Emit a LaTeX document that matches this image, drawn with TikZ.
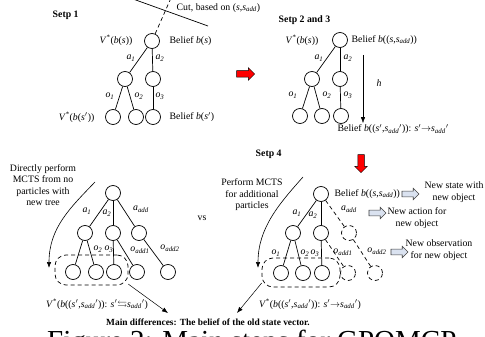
\documentclass[tikz,border=0pt]{standalone}
\usepackage{amssymb}
\usepackage{fontspec}
\setmainfont{Liberation Serif}
\usetikzlibrary{shapes.arrows,arrows.meta}
\newcommand{\mi}[1]{\textit{#1}}
\newcommand{\sbs}[1]{\textsubscript{#1}}
\newcommand{\sadd}{\mi{s}\sbs{\mi{add}}}
\newcommand{\vstar}{\mi{V}\textsuperscript{*}}
\newcommand{\pri}{{$'$}}
\begin{document}
\begin{tikzpicture}[x=1pt,y=-1pt,
 every node/.style={font=\fontsize{9.8}{11.5}\selectfont, inner sep=0.5pt},
 st/.style={circle,draw,line width=0.7pt,minimum size=15pt,inner sep=0},
 dst/.style={st,dash pattern=on 4pt off 3pt},
 edge/.style={line width=0.7pt},
 dedge/.style={edge,dash pattern=on 4pt off 3pt},
 lab/.style={font=\fontsize{9.8}{11}\selectfont\itshape},
 ttl/.style={font=\fontsize{9.8}{11}\selectfont\bfseries, anchor=west},
 redarrow/.style={single arrow, draw=black, fill=red, line width=0.5pt, minimum height=18pt, inner sep=0pt, inner ysep=3pt, text height=0pt, text depth=0pt, single arrow head extend=3pt},
 hollow/.style={single arrow, draw=black!75, fill={rgb,255:red,218;green,226;blue,240}, line width=0.6pt, minimum height=17pt, inner sep=0pt, inner ysep=2.6pt, text height=0pt, text depth=0pt, single arrow head extend=2.8pt},
 region/.style={draw, line width=0.7pt, dash pattern=on 4pt off 3pt, rounded corners=11pt},
 thinarrow/.style={line width=0.5pt,-{Latex[length=6pt,width=4.5pt]}},
 ]
\useasboundingbox (0,0) rectangle (485,337);

% ---------- Step 1 ----------
\node[ttl] (t1) at (52,15) {Setp 1};
\node[st] (r1) at (152,41) {};
\node[st] (p1a) at (125,79) {};
\node[st] (p1b) at (153,79) {};
\node[st] (q1a) at (113,117) {};
\node[st] (q1b) at (136,117) {};
\node[st] (q1c) at (153,117) {};
\draw[edge] (r1) -- (p1a);
\draw[edge] (r1) -- (p1b);
\draw[edge] (p1a) -- (q1a);
\draw[edge] (p1a) -- (q1b);
\draw[edge] (p1b) -- (q1c);
\node[lab] (l1a) at (131,58) {a\sbs{1}};
\node[lab] (l1b) at (160,58) {a\sbs{2}};
\node[lab] (l1c) at (110,96) {o\sbs{1}};
\node[lab] (l1d) at (139,96) {o\sbs{2}};
\node[lab] (l1e) at (160,96) {o\sbs{3}};
\node[anchor=east] (v1) at (133,40) {\vstar(\mi{b}(\mi{s}))};
\node[anchor=west] (b1) at (169,41) {Belief \mi{b}(\mi{s})};
\node[anchor=east] (v1b) at (95,117) {\vstar(\mi{b}(\mi{s}\pri))};
\node[anchor=west] (b1b) at (169,117) {Belief \mi{b}(\mi{s}\pri)};
\coordinate (c1) at (133,-1);
\coordinate (c2) at (208,26);
\coordinate (c3) at (171,-2);
\draw[edge] (c1) -- (c2);
\draw[dedge] (r1) -- (c3);
\node[anchor=west] (cut) at (176,8) {Cut, based on (\mi{s},\sadd)};

\node[redarrow] (ra) at (244,74) {};

% ---------- Step 2 and 3 ----------
\node[ttl] (t2) at (278,20) {Setp 2 and 3};
\node[st] (r2) at (340,40) {};
\node[st] (p2a) at (312,79) {};
\node[st] (p2b) at (340,79) {};
\node[st] (q2a) at (300,116) {};
\node[st] (q2b) at (322,116) {};
\node[st] (q2c) at (341,116) {};
\draw[edge] (r2) -- (p2a);
\draw[edge] (r2) -- (p2b);
\draw[edge] (p2a) -- (q2a);
\draw[edge] (p2a) -- (q2b);
\draw[edge] (p2b) -- (q2c);
\node[lab] (l2a) at (319,58) {a\sbs{1}};
\node[lab] (l2b) at (348,58) {a\sbs{2}};
\node[lab] (l2c) at (293,95) {o\sbs{1}};
\node[lab] (l2d) at (327,95) {o\sbs{2}};
\node[lab] (l2e) at (348,95) {o\sbs{3}};
\node[anchor=east] (v2) at (319,40) {\vstar(\mi{b}(\mi{s}))};
\node[anchor=west] (b2) at (351,40) {Belief \mi{b}((\mi{s},\sadd))};
\coordinate (h1) at (363,55);
\coordinate (h2) at (363,123);
\draw[thinarrow, line width=0.4pt] (h1) -- (h2);
\node[lab] (hl) at (379,83) {h};
\node[anchor=west] (b2b) at (337,129) {Belief \mi{b}((\mi{s}\pri,\sadd\pri)): \mi{s}\pri{$\rightarrow$}\sadd\pri};

% ---------- Step 4 ----------
\node[ttl] (t4) at (255,154) {Setp 4};
\node[redarrow, rotate=-90] (rd) at (361,162) {};

% left tree
\node[st] (r3) at (113,193) {};
\node[st] (p3a) at (85,233) {};
\node[st] (p3b) at (113,233) {};
\node[st] (p3c) at (139,233) {};
\node[st] (q3a) at (73,272) {};
\node[st] (q3b) at (96,272) {};
\node[st] (q3c) at (114,272) {};
\node[st] (q3d) at (137,272) {};
\node[st] (q3e) at (168,272) {};
\draw[edge] (r3) -- (p3a);
\draw[edge] (r3) -- (p3b);
\draw[edge] (r3) -- (p3c);
\draw[edge] (p3a) -- (q3a);
\draw[edge] (p3a) -- (q3b);
\draw[edge] (p3b) -- (q3c);
\draw[edge] (p3b) -- (q3d);
\draw[edge] (p3c) -- (q3e);
\node[lab] (l3a) at (87,211) {a\sbs{1}};
\node[lab] (l3b) at (107,213) {a\sbs{2}};
\node[lab] (l3c) at (141,209) {a\sbs{add}};
\node[lab] (l3d) at (98,249) {o\sbs{2}};
\node[lab] (l3e) at (109,249) {o\sbs{3}};
\node[lab] (l3f) at (140,250) {o\sbs{add1}};
\node[lab] (l3g) at (170,248) {o\sbs{add2}};
\node[region, minimum width=73pt, minimum height=30pt] (regL) at (91.5,270) {};
\node[align=center] (dp) at (43,185) {Directly perform\\MCTS from no\\particles with\\new tree};
\coordinate (la1) at (95,182);
\coordinate (la2) at (49,268);
\draw[thinarrow, line width=0.6pt] (la1) .. controls (70,208) and (49,228) .. (la2);
\node (vs) at (202,218) {vs};

% right tree
\node[st] (r4) at (321,194) {};
\node[st] (p4a) at (293,233) {};
\node[st] (p4b) at (321,233) {};
\node[dst] (p4c) at (349,233) {};
\node[st] (q4a) at (281,273) {};
\node[st] (q4b) at (303,273) {};
\node[st] (q4c) at (322,273) {};
\node[dst] (q4d) at (348,273) {};
\node[dst] (q4e) at (375,273) {};
\draw[edge] (r4) -- (p4a);
\draw[edge] (r4) -- (p4b);
\draw[dedge] (r4) -- (p4c);
\draw[edge] (p4a) -- (q4a);
\draw[edge] (p4a) -- (q4b);
\draw[edge] (p4b) -- (q4c);
\draw[dedge] (p4b) -- (q4d);
\draw[dedge] (p4c) -- (q4e);
\node[lab] (l4a) at (297,213) {a\sbs{1}};
\node[lab] (l4b) at (313,215) {a\sbs{2}};
\node[lab] (l4c) at (349,209) {a\sbs{add}};
\node[lab] (l4d) at (276,253) {o\sbs{1}};
\node[lab] (l4e) at (305,253) {o\sbs{2}};
\node[lab] (l4f) at (315,253) {o\sbs{3}};
\node[lab] (l4g) at (343,252) {o\sbs{add1}};
\node[lab] (l4h) at (377,251) {o\sbs{add2}};
\node[region, minimum width=78pt, minimum height=29pt] (regR) at (301,272.5) {};
\node[anchor=west] (b4) at (334,194) {Belief \mi{b}((\mi{s},\sadd))};
\node[hollow] (ha1) at (409,194) {};
\node[hollow] (ha2) at (376,213) {};
\node[hollow] (ha3) at (398,252) {};
\node[align=center] (n1) at (454,192) {New state with\\new object};
\node[align=center] (n2) at (417,218) {New action for\\new object};
\node[align=center] (n3) at (439,250) {New observation\\for new object};
\node[align=center] (pm) at (252,195) {Perform MCTS\\for additional\\particles};
\coordinate (ra1) at (303,177);
\coordinate (ra2) at (258,268);
\draw[thinarrow, line width=0.6pt] (ra1) .. controls (279,204) and (258,228) .. (ra2);

% ---------- bottom ----------
\node (vL) at (97,304) {\vstar(\mi{b}((\mi{s}\pri,\sadd\pri)): \mi{s}\pri{$\leftrightarrows$}\sadd\pri)};
\node (vR) at (310,304) {\vstar(\mi{b}((\mi{s}\pri,\sadd\pri)): \mi{s}\pri{$\rightarrow$}\sadd\pri)};
\node[font=\fontsize{9.4}{11}\selectfont\bfseries] (main) at (208,322) {Main differences: The belief of the old state vector.};
\coordinate (tipL) at (168,313);
\coordinate (tipR) at (237,313);
\draw[thinarrow] (regL.-21) -- (tipL);
\draw[thinarrow] (regR.195) -- (tipR);

\begin{scope}
\clip (0,0) rectangle (485,337);
\node[anchor=base west, font=\fontsize{29}{30}\selectfont, inner sep=0] (cap) at (47,350) {Figure 2: Main steps for GPOMCP};
\end{scope}
\end{tikzpicture}
\end{document}
